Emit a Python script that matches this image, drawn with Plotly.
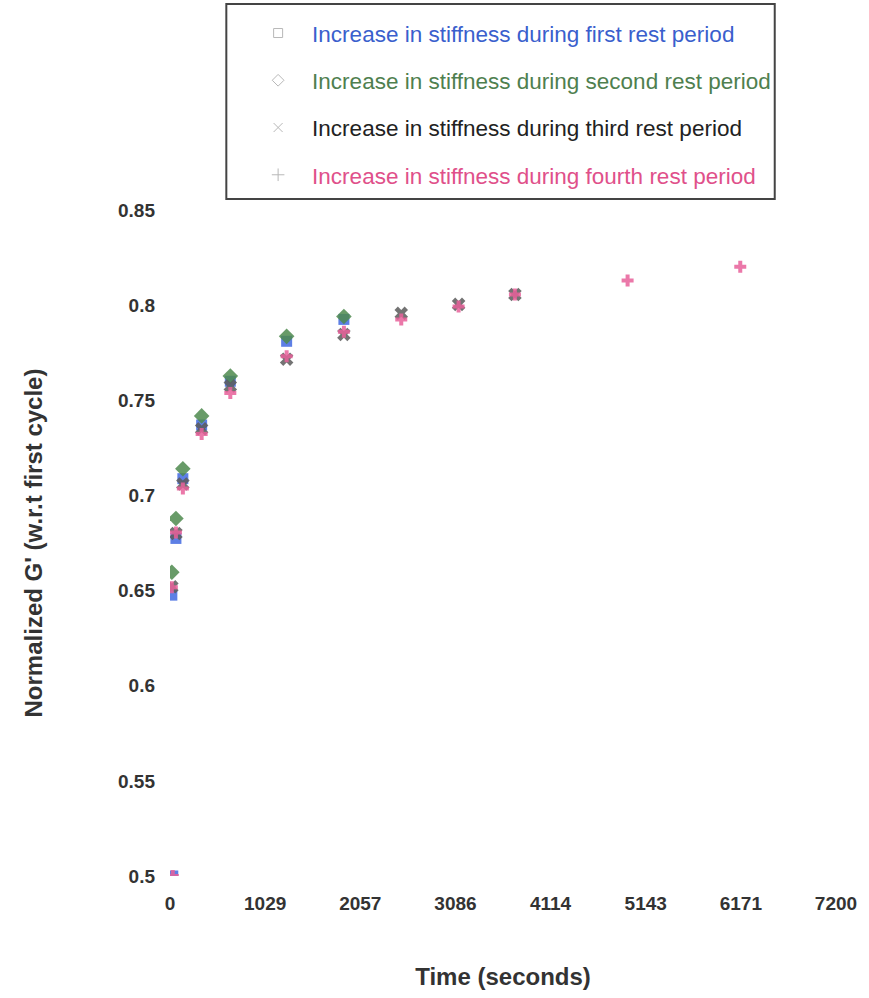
import plotly.graph_objects as go

# ---- data ----
names = [
    "Increase in stiffness during first rest period",
    "Increase in stiffness during second rest period",
    "Increase in stiffness during third rest period",
    "Increase in stiffness during fourth rest period",
]
t1 = [30, 20, 64, 139, 342, 652, 1261, 1880]
g1 = [0.500, 0.6476, 0.6774, 0.7088, 0.7370, 0.7600, 0.7810, 0.7925]
t2 = [20, 64, 139, 342, 652, 1261, 1880]
g2 = [0.6596, 0.6879, 0.7140, 0.7418, 0.7627, 0.7836, 0.7940]
t3 = [20, 64, 139, 342, 652, 1261, 1880, 2500, 3120, 3729]
g3 = [0.6520, 0.6800, 0.7060, 0.7350, 0.7575, 0.7716, 0.7846, 0.7957, 0.8004, 0.8056]
t4 = [30, 20, 64, 139, 342, 652, 1261, 1880, 2500, 3120, 3729, 4947, 6165]
g4 = [0.500, 0.6518, 0.6805, 0.7036, 0.7323, 0.7538, 0.7732, 0.7860, 0.7925, 0.7993, 0.8056, 0.8129, 0.8202]

x_ticks = [0, 1029, 2057, 3086, 4114, 5143, 6171, 7200]
x_ticktext = ["0", "1029", "2057", "3086", "4114", "5143", "6171", "7200"]
y_ticks = [0.5, 0.55, 0.6, 0.65, 0.7, 0.75, 0.8, 0.85]
y_ticktext = ["0.5", "0.55", "0.6", "0.65", "0.7", "0.75", "0.8", "0.85"]

series = [(t1, g1), (t2, g2), (t3, g3), (t4, g4)]
colors = ["#4169e1", "#4e8a4e", "#5a5a5a", "#e8609a"]
text_colors = ["#3a5fcd", "#4f7f4f", "#222222", "#e0508a"]
symbols = ["square", "diamond", "x", "cross"]
legend_symbols = ["square-open", "diamond-open", "x-thin-open", "cross-thin-open"]
sizes = [11, 12, 12, 10]

fig = go.Figure()
for i, (tx, gy) in enumerate(series):
    fig.add_trace(go.Scatter(
        x=tx, y=gy, mode="markers", showlegend=False,
        marker=dict(symbol=symbols[i], size=sizes[i], color=colors[i],
                    opacity=0.85, line=dict(width=0)),
    ))
for i in range(4):
    fig.add_trace(go.Scatter(
        x=[None], y=[None], mode="markers",
        name="<span style='color:%s'>%s</span>" % (text_colors[i], names[i]),
        legendgroup="g%d" % i,
        marker=dict(symbol=legend_symbols[i], size=9, color="#b8b8b8",
                    line=dict(width=1, color="#b8b8b8")),
    ))

L, R, T, B = 170, 25, 208, 121
W, H = 869, 998
pw, ph = W - L - R, H - T - B

def px_x(p):
    return (p - L) / pw

def px_y(p):
    return (H - B - p) / ph

fig.add_shape(type="rect", xref="paper", yref="paper",
              x0=px_x(227), x1=px_x(782), y0=px_y(197), y1=px_y(1),
              line=dict(color="#444444", width=2), fillcolor="rgba(0,0,0,0)")

FF = "Liberation Sans, Arial, sans-serif"
fig.update_layout(
    width=W, height=H,
    margin=dict(l=L, r=R, t=T, b=B),
    paper_bgcolor="white", plot_bgcolor="white",
    font=dict(family=FF, color="#333333"),
    legend=dict(
        x=px_x(245), y=px_y(9), xanchor="left", yanchor="top",
        bgcolor="rgba(0,0,0,0)", borderwidth=0,
        font=dict(size=22.5, family=FF),
        tracegroupgap=15, traceorder="grouped", itemwidth=58,
    ),
    xaxis=dict(
        range=[0, 7200], tickvals=x_ticks, ticktext=x_ticktext,
        showgrid=False, zeroline=False, showline=False, ticks="",
        tickfont=dict(size=19, family=FF, weight="bold", color="#333333"),
        ticklabelstandoff=14,
        title=dict(text="Time (seconds)", standoff=55,
                   font=dict(size=24, weight="bold", color="#333333")),
    ),
    yaxis=dict(
        range=[0.5, 0.85], tickvals=y_ticks, ticktext=y_ticktext,
        showgrid=False, zeroline=False, showline=False, ticks="",
        tickfont=dict(size=19, family=FF, weight="bold", color="#333333"),
        ticklabelstandoff=14,
        title=dict(text="Normalized G' (w.r.t first cycle)", standoff=68,
                   font=dict(size=24, weight="bold", color="#333333")),
    ),
)

fig.write_html("out.html")
